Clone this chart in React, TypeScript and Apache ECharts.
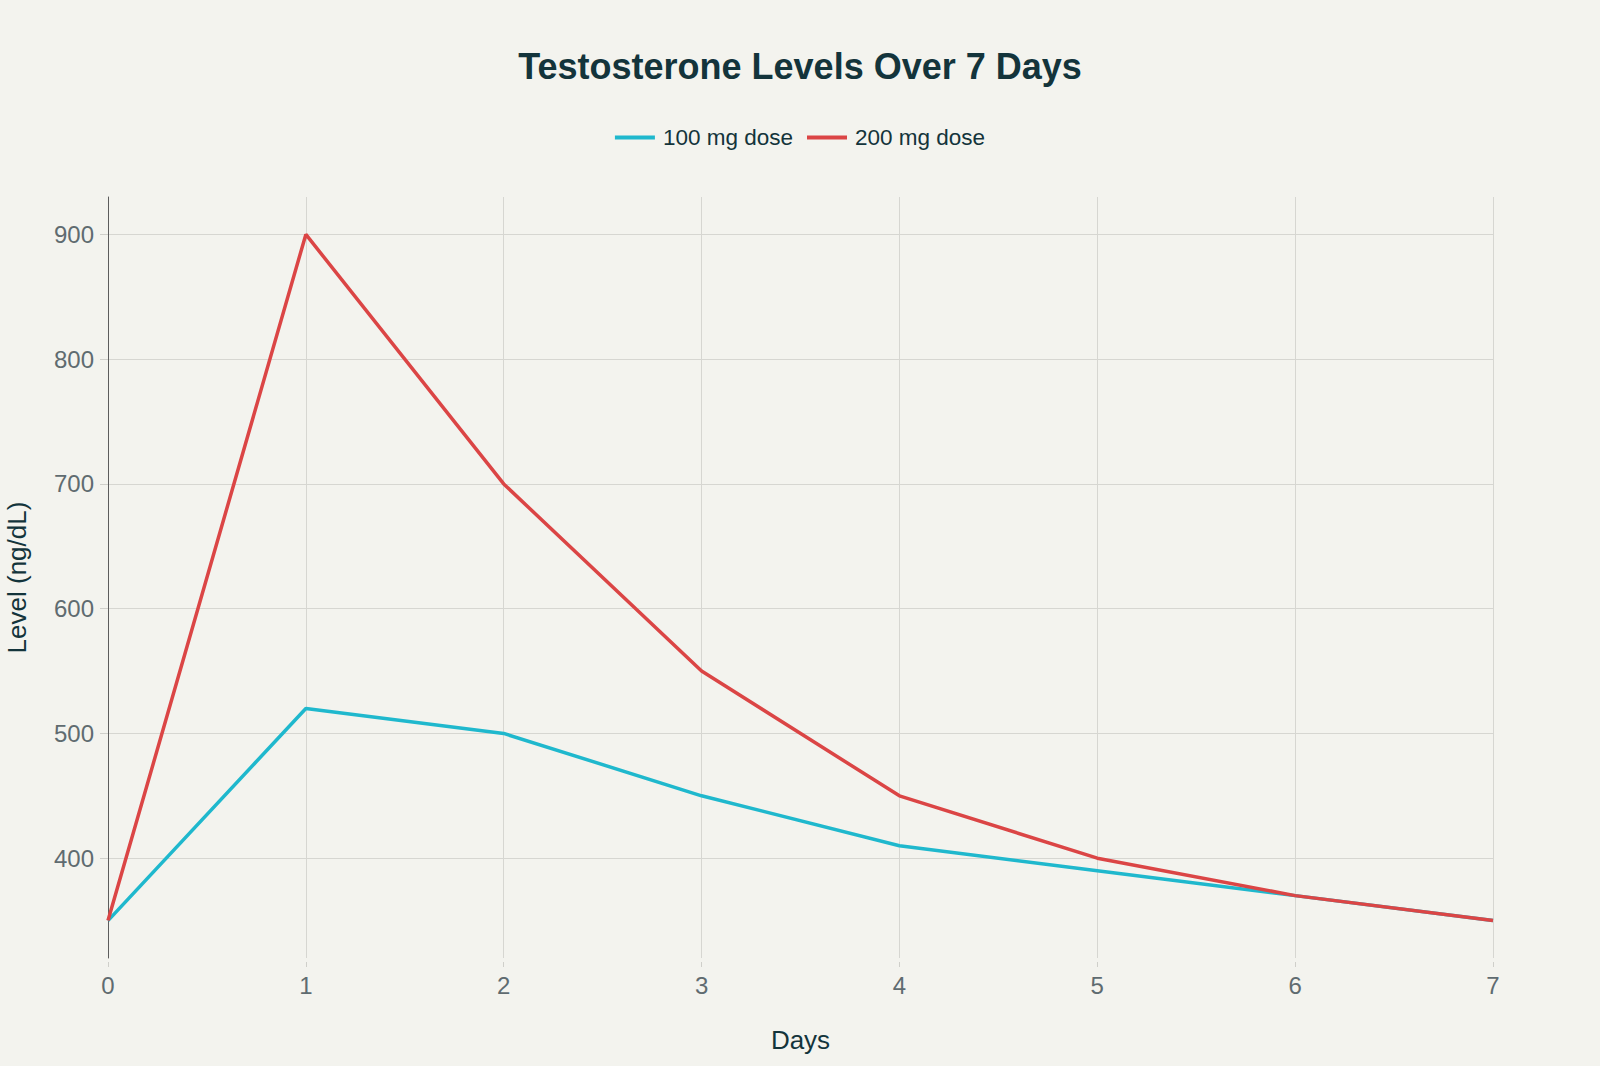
import React, { useEffect, useRef } from "react";
import * as echarts from "echarts";

const days = [0, 1, 2, 3, 4, 5, 6, 7];
const dose100 = [350, 520, 500, 450, 410, 390, 370, 350];
const dose200 = [350, 900, 700, 550, 450, 400, 370, 350];
const yTicks = [400, 500, 600, 700, 800, 900];
const seriesNames = ["100 mg dose", "200 mg dose"];

const FONT = "'Liberation Sans', Arial, sans-serif";

export default function App() {
  const ref = useRef<HTMLDivElement>(null);
  useEffect(() => {
    document.body.style.margin = "0";
    if (!ref.current) return;
    const chart = echarts.init(ref.current, undefined, { renderer: "svg" });
    chart.setOption({
      animation: false,
      backgroundColor: "#f3f3ee",
      textStyle: { fontFamily: FONT },
      title: {
        text: "Testosterone Levels Over 7 Days",
        left: "center",
        top: 43,
        textStyle: { fontFamily: FONT, fontSize: 36, fontWeight: "bold", color: "#13343b" },
      },
      legend: {
        top: 121,
        left: "center",
        icon: "rect",
        itemWidth: 40,
        itemHeight: 4,
        itemGap: 14,
        textStyle: { fontFamily: FONT, fontSize: 22.5, color: "#13343b", padding: [0, 0, 0, 3] },
        data: seriesNames,
      },
      grid: {
        left: 108,
        right: 107,
        top: 197,
        bottom: 108,
        containLabel: false,
        outerBoundsMode: "none",
      },
      xAxis: {
        type: "value",
        min: 0,
        max: 7,
        interval: 1,
        offset: 4,
        name: "Days",
        nameLocation: "middle",
        nameGap: 65,
        nameTextStyle: { fontFamily: FONT, fontSize: 26, color: "#13343b" },
        axisLine: { show: false },
        axisTick: { show: true, length: 5, lineStyle: { color: "#cfcfca" } },
        axisLabel: { fontFamily: FONT, fontSize: 24, color: "#5f6b70", margin: 11 },
        splitLine: { show: true, lineStyle: { color: "#d6d6d1", width: 1 } },
      },
      yAxis: {
        type: "value",
        min: 320,
        max: 930,
        name: "Level (ng/dL)",
        nameLocation: "middle",
        nameGap: 78,
        nameTextStyle: { fontFamily: FONT, fontSize: 26, color: "#13343b" },
        axisLine: { show: true, lineStyle: { color: "#5c5c5c", width: 1 } },
        axisTick: { show: true, length: 8, customValues: yTicks, lineStyle: { color: "#cfcfca" } },
        axisLabel: { fontFamily: FONT, fontSize: 24, color: "#5f6b70", margin: 14, customValues: yTicks },
        splitLine: { show: true, lineStyle: { color: "#d6d6d1", width: 1 } },
      },
      series: [
        {
          name: seriesNames[0],
          type: "line",
          data: days.map((d, i) => [d, dose100[i]]),
          symbol: "none",
          lineStyle: { color: "#1fb8cd", width: 3.5 },
          itemStyle: { color: "#1fb8cd" },
        },
        {
          name: seriesNames[1],
          type: "line",
          data: days.map((d, i) => [d, dose200[i]]),
          symbol: "none",
          lineStyle: { color: "#db4545", width: 3.5 },
          itemStyle: { color: "#db4545" },
        },
      ],
    });
    return () => chart.dispose();
  }, []);
  return <div ref={ref} style={{ width: 1600, height: 1066 }} />;
}
